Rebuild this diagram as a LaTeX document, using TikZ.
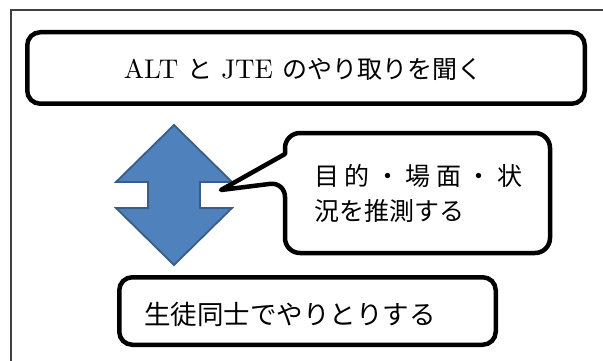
\documentclass[tikz,border=0pt]{standalone}
\usepackage{fontspec}
\setmainfont{lmroman10-regular.otf}
\newfontfamily\jp{Noto Sans CJK JP}
\newcommand{\J}[1]{{\fontsize{25}{35}\selectfont\jp #1}}
\definecolor{arrowfill}{HTML}{4F81BD}
\definecolor{arrowline}{HTML}{385D8A}
\definecolor{framecol}{HTML}{404040}
\tikzset{
  boxstyle/.style={draw=black, line width=4.5pt, rounded corners=13pt, inner sep=0pt},
  bigtext/.style={font=\fontsize{25}{35}\selectfont, inner sep=0pt},
}
\begin{document}
\begin{tikzpicture}[x=1pt,y=-1pt]
\useasboundingbox (0,0) rectangle (603,361);
% outer frame
\draw[framecol, line width=1.3pt] (11,361) -- (11,10) -- (603,10);
% top box
\node[boxstyle, minimum width=557.5pt, minimum height=71.5pt] (top) at (306,68) {};
\node[bigtext, font=\fontsize{27}{35}\selectfont] (toptxt) at (303,69) {ALT \J{と} JTE \J{のやり取りを聞く}};
% double arrow
\draw[fill=arrowfill, draw=arrowline, line width=1.8pt, line join=miter]
  (174,125) -- (232,182) -- (200,182) -- (200,208) -- (232,208) -- (174,265)
  -- (116,208) -- (148,208) -- (148,182) -- (116,182) -- cycle;
% callout
\coordinate (tip) at (221,190);
\draw[line width=4.5pt, line join=round, fill=white]
  (tip) -- (285,154) [rounded corners=15pt] -- (285,133) -- (550,133) -- (550,253) -- (285,253)
  -- (285,182) [sharp corners] -- cycle;
\node[bigtext, anchor=north west, align=left] (calltxt) at (314,164)
  {\jp\makebox[208pt][s]{目\hfil 的\hfil ・\hfil 場\hfil 面\hfil ・\hfil 状}\\ \jp 況を推測する};
% bottom box
\node[boxstyle, minimum width=376.5pt, minimum height=67.5pt] (bot) at (307.5,311) {};
\node[bigtext, anchor=west, font=\fontsize{26.5}{35}\selectfont] (bottxt) at (144,314) {\jp 生徒同士でやりとりする};
\end{tikzpicture}
\end{document}
